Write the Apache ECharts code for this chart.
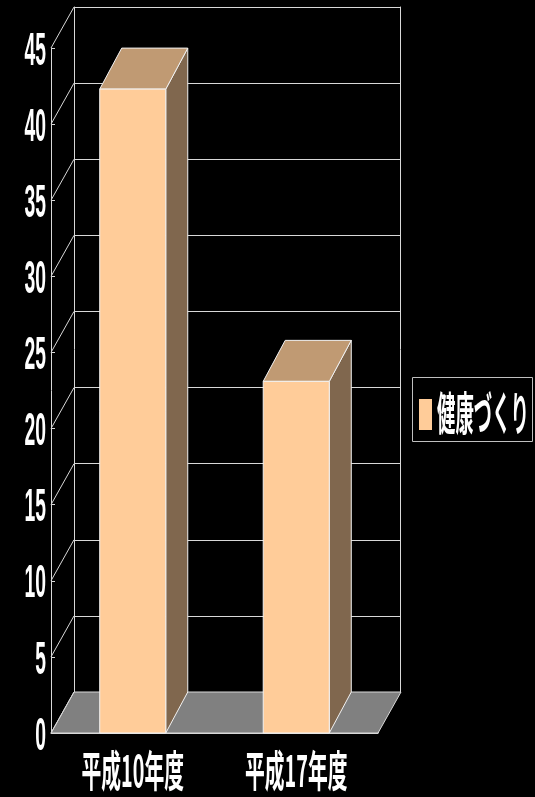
<!DOCTYPE html>
<html>
<head>
<meta charset="utf-8">
<script src="https://cdn.jsdelivr.net/npm/echarts@6/dist/echarts.min.js"></script>
<style>
  html, body { margin: 0; padding: 0; background: #000; }
  #chart { width: 535px; height: 797px; }
</style>
</head>
<body>
<div id="chart"></div>
<script>
// Chart data
const categories = ['平成10年度', '平成17年度'];
const seriesName = '健康づくり';
const values = [42.3, 23.1];
const yTicks = [0, 5, 10, 15, 20, 25, 30, 35, 40, 45];

// 3D depth offset of the back wall (pixels)
const DX = 23, DY = -41;
const LINE = '#d8d8d8';
const FRONT = '#FFCC99', TOP = '#C09A73', SIDE = '#80674E';

const chart = echarts.init(document.getElementById('chart'), null, { renderer: 'canvas' });

function bandInfo(api) {
  const c0 = api.coord([0, 0]);
  const band = api.size([1, 0])[0];
  return { left: c0[0] - band / 2, band: band, y0: c0[1] };
}

const option = {
  backgroundColor: '#000',
  animation: false,
  grid: [
    { left: 51, top: 48, width: 327, height: 685 },   // front plane
    { left: 74, top: 7, width: 326, height: 685 }     // back wall
  ],
  xAxis: [
    {
      type: 'category', gridIndex: 0, data: categories,
      axisLine: { lineStyle: { color: LINE, width: 1 } },
      axisTick: { show: true, inside: true, length: 9, interval: 0, lineStyle: { color: LINE } },
      axisLabel: { show: false }
    },
    {
      type: 'category', gridIndex: 1, data: categories,
      axisLine: { show: false }, axisTick: { show: false }, axisLabel: { show: false }
    }
  ],
  yAxis: [
    {
      type: 'value', gridIndex: 0, min: 0, max: 45, interval: 5,
      axisLine: { show: true, lineStyle: { color: LINE, width: 1 } },
      axisTick: { show: true, inside: true, length: 4, lineStyle: { color: LINE } },
      axisLabel: { show: false },
      splitLine: { show: false }
    },
    {
      type: 'value', gridIndex: 1, min: 0, max: 45, interval: 5,
      axisLine: { show: true, lineStyle: { color: LINE, width: 1 } },
      axisTick: { show: false },
      axisLabel: { show: false },
      splitLine: { show: true, lineStyle: { color: LINE, width: 1 } }
    },
    {
      type: 'value', gridIndex: 1, min: 0, max: 45, interval: 5, position: 'right',
      axisLine: { show: true, lineStyle: { color: LINE, width: 1 } },
      axisTick: { show: false },
      axisLabel: { show: false },
      splitLine: { show: false }
    }
  ],
  series: [
    // floor
    {
      type: 'custom', xAxisIndex: 0, yAxisIndex: 0, data: [[0, 0]], silent: true, z: 2,
      renderItem: function (params, api) {
        const b = bandInfo(api);
        const right = b.left + b.band * categories.length;
        return {
          type: 'polygon',
          shape: { points: [[b.left, b.y0], [b.left + DX, b.y0 + DY], [right + DX, b.y0 + DY], [right, b.y0]] },
          style: { fill: '#808080', stroke: LINE, lineWidth: 1 }
        };
      }
    },
    // side wall diagonals
    {
      type: 'custom', xAxisIndex: 0, yAxisIndex: 0, data: yTicks.map(v => [0, v]), silent: true, z: 3,
      renderItem: function (params, api) {
        const b = bandInfo(api);
        const y = api.coord([0, api.value(1)])[1];
        return {
          type: 'line',
          shape: { x1: b.left, y1: y, x2: b.left + DX, y2: y + DY },
          style: { stroke: LINE, lineWidth: 1 }
        };
      }
    },
    // 3D columns
    {
      name: seriesName, type: 'custom', xAxisIndex: 0, yAxisIndex: 0, z: 4,
      data: values.map((v, i) => [i, v]),
      renderItem: function (params, api) {
        const top = api.coord([api.value(0), api.value(1)]);
        const base = api.coord([api.value(0), 0]);
        const w = api.size([1, 0])[0] * 0.404;
        const x1 = top[0] - w / 2, x2 = top[0] + w / 2;
        const yt = top[1], yb = base[1];
        const dx = 22;
        const edge = { stroke: '#f2f2f2', lineWidth: 1 };
        return {
          type: 'group',
          children: [
            { type: 'polygon', shape: { points: [[x2, yt], [x2 + dx, yt + DY], [x2 + dx, yb + DY], [x2, yb]] },
              style: Object.assign({ fill: SIDE }, edge) },
            { type: 'polygon', shape: { points: [[x1, yt], [x1 + dx, yt + DY], [x2 + dx, yt + DY], [x2, yt]] },
              style: Object.assign({ fill: TOP }, edge) },
            { type: 'rect', shape: { x: x1, y: yt, width: w, height: yb - yt },
              style: Object.assign({ fill: FRONT }, edge) }
          ]
        };
      }
    },
    // value axis labels
    {
      type: 'custom', xAxisIndex: 0, yAxisIndex: 0, data: yTicks.map(v => [0, v]), silent: true, z: 5,
      renderItem: function (params, api) {
        const b = bandInfo(api);
        const y = api.coord([0, api.value(1)])[1];
        return {
          type: 'text', x: b.left - 5, y: y + 4, scaleX: 0.42,
          style: {
            text: String(api.value(1)), fill: '#fff',
            fontSize: 46, fontWeight: 'bold', fontFamily: 'Liberation Sans, Arial, sans-serif',
            align: 'right', verticalAlign: 'middle', textAlign: 'right', textVerticalAlign: 'middle'
          }
        };
      }
    },
    // category labels
    {
      type: 'custom', xAxisIndex: 0, yAxisIndex: 0, data: categories.map((c, i) => [i, 0]), silent: true, z: 5,
      renderItem: function (params, api) {
        const p = api.coord([api.value(0), 0]);
        return {
          type: 'text', x: p[0], y: p[1] + 38, scaleX: 0.46,
          style: {
            text: categories[api.value(0)], fill: '#fff',
            fontSize: 43, fontWeight: 'bold', fontFamily: 'Noto Sans CJK JP, sans-serif',
            align: 'center', verticalAlign: 'middle', textAlign: 'center', textVerticalAlign: 'middle'
          }
        };
      }
    }
  ],
  graphic: [
    { type: 'rect', shape: { x: 412.5, y: 377.5, width: 120, height: 64 },
      style: { fill: '#000', stroke: '#bfbfbf', lineWidth: 1 } },
    { type: 'rect', shape: { x: 419, y: 399, width: 13, height: 31 },
      style: { fill: FRONT } },
    { type: 'text', x: 437, y: 413, scaleX: 0.4,
      style: { text: seriesName, fill: '#fff', fontSize: 46, fontWeight: 'bold',
        fontFamily: 'Noto Sans CJK JP, sans-serif',
        align: 'left', verticalAlign: 'middle', textAlign: 'left', textVerticalAlign: 'middle' } }
  ]
};

chart.setOption(option);
</script>
</body>
</html>
